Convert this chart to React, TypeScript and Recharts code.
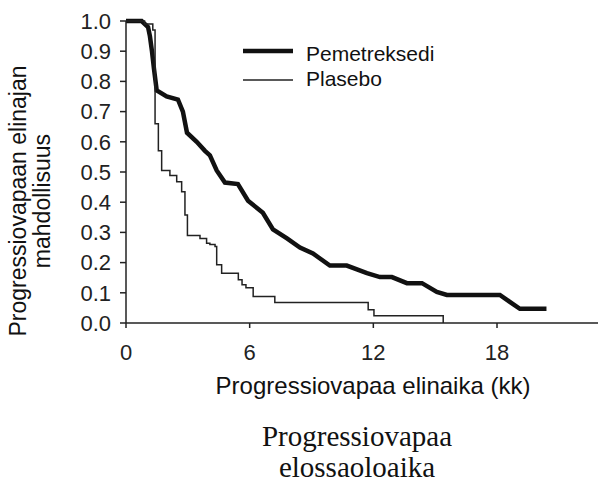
import React from "react";
import { LineChart, Line, XAxis, YAxis } from "recharts";

// Pemetreksedi (months, progression-free probability)
const pemTime = [0, 0.76, 1.07, 1.16, 1.26, 1.36, 1.49, 1.97, 2.52, 2.76, 2.96, 3.43, 3.83, 4.07, 4.4, 4.8, 5.43, 5.92, 6.64, 7.13, 7.81, 8.44, 9.07, 9.89, 10.71, 11.69, 12.32, 12.9, 13.63, 14.36, 15.08, 15.57, 18.14, 18.62, 19.11, 20.4];
const pemSurv = [1.0, 1.0, 0.98, 0.95, 0.9, 0.84, 0.77, 0.75, 0.74, 0.7, 0.63, 0.6, 0.57, 0.555, 0.505, 0.465, 0.46, 0.405, 0.365, 0.31, 0.28, 0.25, 0.23, 0.19, 0.19, 0.165, 0.152, 0.152, 0.132, 0.132, 0.103, 0.093, 0.093, 0.07, 0.047, 0.047];

// Plasebo
const plaTime = [0, 0.9, 1.3, 1.41, 1.57, 1.73, 2.13, 2.46, 2.70, 2.86, 2.98, 3.59, 3.91, 4.07, 4.32, 4.4, 4.64, 5.45, 5.63, 5.82, 6.17, 7.22, 11.75, 12.03, 15.39];
const plaSurv = [1.0, 0.99, 0.97, 0.66, 0.57, 0.505, 0.488, 0.468, 0.435, 0.358, 0.29, 0.28, 0.264, 0.26, 0.253, 0.193, 0.165, 0.143, 0.127, 0.117, 0.088, 0.068, 0.044, 0.024, 0];

const xTicks = [0, 6, 12, 18];
const yTicks = [0, 0.1, 0.2, 0.3, 0.4, 0.5, 0.6, 0.7, 0.8, 0.9, 1.0];

const seriesNames = ["Pemetreksedi", "Plasebo"];
const xTitle = "Progressiovapaa elinaika (kk)";
const yTitle = ["Progressiovapaan elinajan", "mahdollisuus"];
const caption = ["Progressiovapaa", "elossaoloaika"];

const pemData = pemTime.map((t, i) => ({ t, s: pemSurv[i] }));
const plaData = plaTime.map((t, i) => ({ t, s: plaSurv[i] }));

const SANS = "'Liberation Sans', Arial, sans-serif";
const SERIF = "'Liberation Serif', 'Times New Roman', serif";
const AX = "#222";

export default function App() {
  return (
    <div style={{ position: "absolute", left: 0, top: 0, width: 600, height: 485, background: "#fff" }}>
      <LineChart width={600} height={485} margin={{ top: 21, right: 2, left: 0, bottom: 132 }}>
        <XAxis
          type="number"
          dataKey="t"
          domain={[0, 22.9]}
          ticks={xTicks}
          allowDataOverflow
          height={30}
          axisLine={{ stroke: AX, strokeWidth: 1.5 }}
          tickLine={{ stroke: AX, strokeWidth: 1.5 }}
          tickSize={5}
          tickMargin={16}
          tick={{ fill: "#222", fontSize: 22, fontFamily: SANS }}
        />
        <YAxis
          type="number"
          domain={[0, 1]}
          ticks={yTicks}
          width={126}
          interval={0}
          tickFormatter={(v: number) => v.toFixed(1)}
          axisLine={{ stroke: AX, strokeWidth: 1.5 }}
          tickLine={{ stroke: AX, strokeWidth: 1.5 }}
          tickSize={6}
          tickMargin={9}
          tick={{ fill: "#222", fontSize: 22, fontFamily: SANS }}
        />
        <Line data={pemData} dataKey="s" type="linear" stroke="#111" strokeWidth={4.5} dot={false} isAnimationActive={false} name={seriesNames[0]} />
        <Line data={plaData} dataKey="s" type="stepAfter" stroke="#222" strokeWidth={1.5} dot={false} isAnimationActive={false} name={seriesNames[1]} />

        <g>
          <line x1={243} x2={293} y1={51} y2={51} stroke="#111" strokeWidth={4.5} />
          <text x={306} y={61} fontSize={21} fontFamily={SANS} fill="#111">{seriesNames[0]}</text>
          <line x1={243} x2={293} y1={80} y2={80} stroke="#222" strokeWidth={1.5} />
          <text x={306} y={86} fontSize={21} fontFamily={SANS} fill="#111">{seriesNames[1]}</text>

          <text x={373} y={394} textAnchor="middle" fontSize={24} fontFamily={SANS} fill="#111">{xTitle}</text>

          <text x={26} y={201} textAnchor="middle" transform="rotate(-90, 26, 201)" fontSize={23} fontFamily={SANS} fill="#111">{yTitle[0]}</text>
          <text x={50} y={201} textAnchor="middle" transform="rotate(-90, 50, 201)" fontSize={23} fontFamily={SANS} fill="#111">{yTitle[1]}</text>

          <text x={357} y={446} textAnchor="middle" fontSize={29} fontFamily={SERIF} fill="#111">{caption[0]}</text>
          <text x={357} y={477} textAnchor="middle" fontSize={29} fontFamily={SERIF} fill="#111">{caption[1]}</text>
        </g>
      </LineChart>
    </div>
  );
}
